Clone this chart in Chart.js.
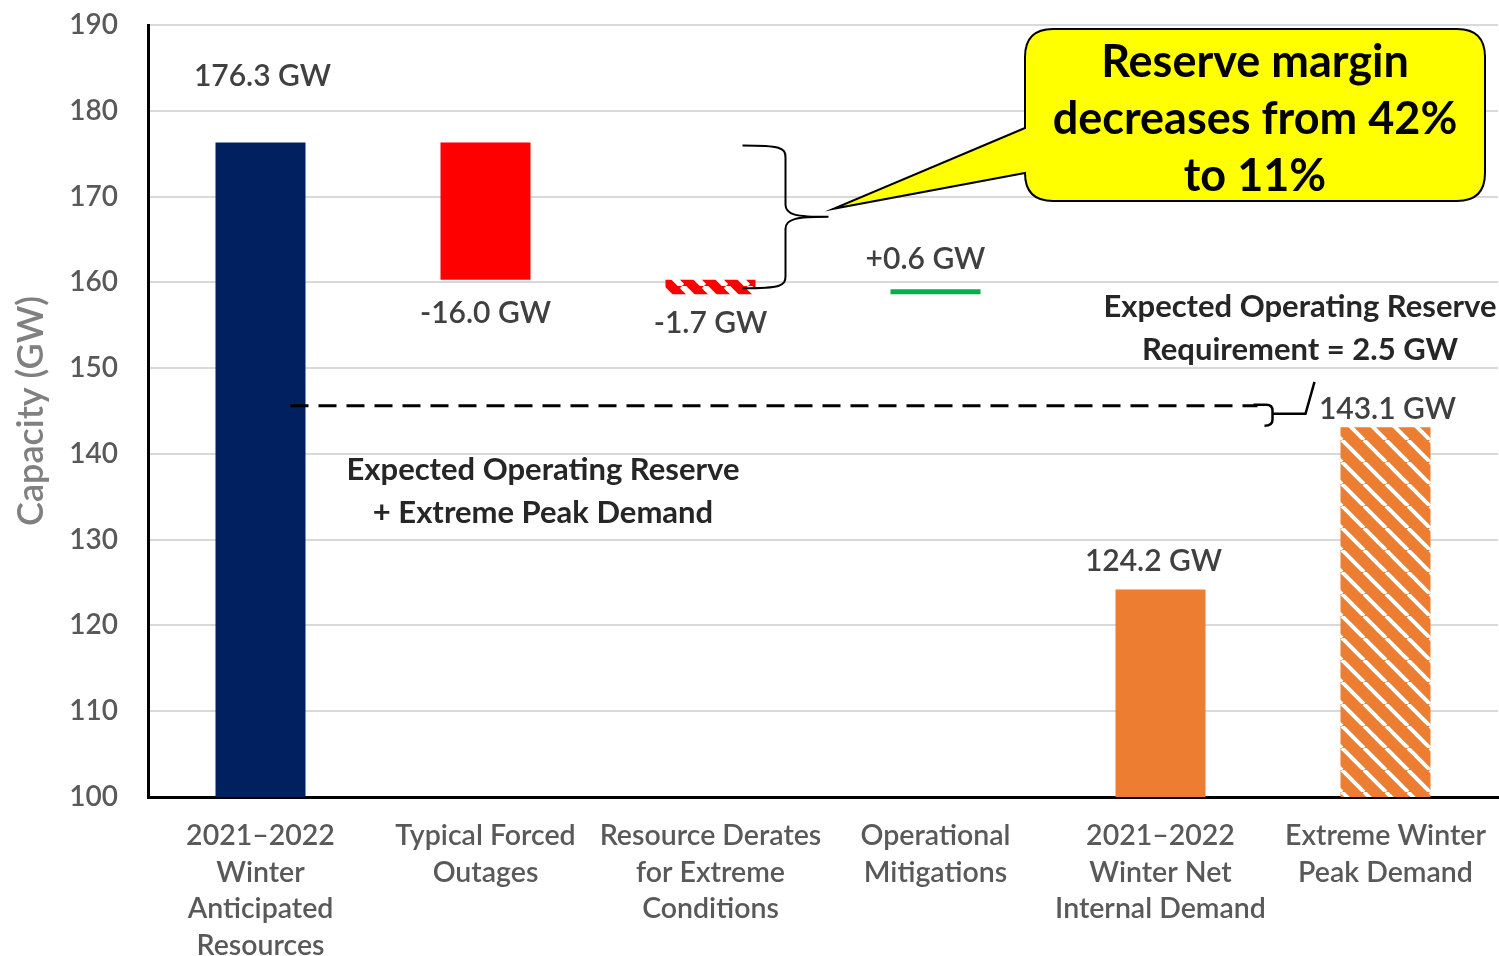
<!DOCTYPE html>
<html>
<head>
    <meta charset="utf-8">
    <script src="https://cdn.jsdelivr.net/npm/chart.js@4.4.1/dist/chart.umd.min.js"></script>
</head>
<body>
    <div class="wrap">
        <canvas id="reserveChart" role="img" aria-label="Winter capacity waterfall: resources, outages, derates, mitigations and demand"></canvas>
    </div>
</body>
</html>

<script>
    // DATA
    const categories = [
        ['2021\u20132022', 'Winter', 'Anticipated', 'Resources'],
        ['Typical Forced', 'Outages'],
        ['Resource Derates', 'for Extreme', 'Conditions'],
        ['Operational', 'Mitigations'],
        ['2021\u20132022', 'Winter Net', 'Internal Demand'],
        ['Extreme Winter', 'Peak Demand']
    ];
    // first value is the starting resources, the rest are the steps applied to it
    const resourceSteps = [176.3, -16.0, -1.7, 0.6];
    const demandValues = [124.2, 143.1];
    const operatingReserve = 2.5;
    const axisMin = 100;
    const axisMax = 190;

    // GLOBALS
    const FONT = 'Lato, "Open Sans", sans-serif';
    const GREY_TEXT = '#595959';
    Chart.defaults.font.family = FONT;
    Chart.defaults.plugins.legend.display = false;
    Chart.defaults.plugins.tooltip.enabled = false;

    // build the floating bars: running total for the steps, then demand bars from the floor
    const barRanges = [];
    let running = 0;
    resourceSteps.forEach((step, i) => {
        if (i === 0) {
            barRanges.push([axisMin, step]);
            running = step;
        } else {
            barRanges.push([running, running + step].sort((a, b) => a - b));
            running += step;
        }
    });
    const afterMitigations = running;
    demandValues.forEach(v => barRanges.push([axisMin, v]));

    const valueLabels = resourceSteps.map((v, i) => {
        if (i === 0) return v.toFixed(1) + ' GW';
        return (v > 0 ? '+' : '') + v.toFixed(1) + ' GW';
    }).concat(demandValues.map(v => v.toFixed(1) + ' GW'));

    // diagonal stripe fills
    const makeStripes = (color, stripe, period, stripeWidth) => {
        const tile = document.createElement('canvas');
        tile.width = period;
        tile.height = period;
        const tctx = tile.getContext('2d');
        tctx.fillStyle = color;
        tctx.fillRect(0, 0, period, period);
        tctx.strokeStyle = stripe;
        tctx.lineWidth = stripeWidth;
        for (let o = -period; o <= period; o += period) {
            tctx.beginPath();
            tctx.moveTo(o, 0);
            tctx.lineTo(o + period, period);
            tctx.stroke();
        }
        return tctx.createPattern(tile, 'repeat');
    };
    const redStripes = makeStripes('#FF0000', '#FFFFFF', 22, 6);
    const orangeStripes = makeStripes('#ED7D31', '#FFFFFF', 22, 4);

    const barColors = ['#002060', '#FF0000', redStripes, '#00B050', '#ED7D31', orangeStripes];

    const centeredLines = (ctx, lines, x, y, gap) => {
        lines.forEach((line, i) => ctx.fillText(line, x, y + i * gap));
    };

    // value labels, reserve line, braces and the callout
    const overlay = {
        id: 'overlay',
        afterDatasetsDraw(chart) {
            const { ctx, scales: { x, y } } = chart;
            const bars = chart.getDatasetMeta(0).data;
            const top = b => Math.min(b.y, b.base);
            const bottom = b => Math.max(b.y, b.base);

            ctx.save();
            ctx.textAlign = 'center';
            ctx.textBaseline = 'middle';
            ctx.fillStyle = '#404040';
            ctx.font = `600 30px ${FONT}`;
            const labelPos = [
                b => [b.x + 2, top(b) - 66],
                b => [b.x, bottom(b) + 34],
                b => [b.x, bottom(b) + 29],
                b => [b.x - 10, top(b) - 30],
                b => [b.x - 7, top(b) - 28],
                b => [b.x + 2, top(b) - 18]
            ];
            bars.forEach((b, i) => {
                const [lx, ly] = labelPos[i](b);
                ctx.fillText(valueLabels[i], lx, ly);
            });

            // expected operating reserve + extreme peak demand line
            const reserveY = y.getPixelForValue(demandValues[1] + operatingReserve);
            ctx.strokeStyle = '#000';
            ctx.lineWidth = 3;
            ctx.setLineDash([18, 10]);
            ctx.beginPath();
            ctx.moveTo(bars[0].x + 30, reserveY);
            ctx.lineTo(x.getPixelForValue(5) - 128, reserveY);
            ctx.stroke();
            ctx.setLineDash([]);

            // small brace bridging the reserve requirement
            const bx = x.getPixelForValue(5) - 113;
            ctx.lineWidth = 2.5;
            ctx.beginPath();
            ctx.moveTo(bx - 19, reserveY - 1);
            ctx.lineTo(bx - 6, reserveY - 1);
            ctx.quadraticCurveTo(bx, reserveY - 1, bx, reserveY + 5);
            ctx.lineTo(bx, reserveY + 14);
            ctx.quadraticCurveTo(bx, reserveY + 20, bx - 8, reserveY + 20);
            ctx.moveTo(bx, reserveY + 8);
            ctx.lineTo(bx + 33, reserveY + 8);
            ctx.lineTo(bx + 42, reserveY - 24);
            ctx.stroke();

            ctx.fillStyle = '#262626';
            ctx.font = `bold 31px ${FONT}`;
            centeredLines(ctx, ['Expected Operating Reserve', '+ Extreme Peak Demand'], 543, reserveY + 64, 43);
            centeredLines(ctx, ['Expected Operating Reserve', 'Requirement = 2.5 GW'], 1300, reserveY - 99, 43);

            // curly brace spanning the loss of resources
            const braceTop = y.getPixelForValue(resourceSteps[0]) + 3;
            const braceBot = y.getPixelForValue(afterMitigations) - 1;
            const braceMid = (braceTop + braceBot) / 2;
            const cx = bars[2].x;
            const left = cx + 32, spine = cx + 75, tip = cx + 118;
            ctx.lineWidth = 2;
            ctx.beginPath();
            ctx.moveTo(left, braceTop);
            ctx.bezierCurveTo(spine - 5, braceTop, spine, braceTop + 2, spine, braceTop + 12);
            ctx.lineTo(spine, braceMid - 12);
            ctx.bezierCurveTo(spine, braceMid - 2, spine + 10, braceMid, tip, braceMid);
            ctx.bezierCurveTo(spine + 10, braceMid, spine, braceMid + 2, spine, braceMid + 12);
            ctx.lineTo(spine, braceBot - 12);
            ctx.bezierCurveTo(spine, braceBot - 2, spine - 5, braceBot, left, braceBot);
            ctx.stroke();

            // callout bubble
            const bL = 1025, bT = 29, bR = 1485, bB = 201, r = 28;
            ctx.beginPath();
            ctx.moveTo(bL + r, bT);
            ctx.lineTo(bR - r, bT);
            ctx.quadraticCurveTo(bR, bT, bR, bT + r);
            ctx.lineTo(bR, bB - r);
            ctx.quadraticCurveTo(bR, bB, bR - r, bB);
            ctx.lineTo(bL + r, bB);
            ctx.quadraticCurveTo(bL, bB, bL, bB - r);
            ctx.lineTo(bL, 173);
            ctx.lineTo(tip + 5, braceMid - 8);
            ctx.lineTo(bL, 128);
            ctx.lineTo(bL, bT + r);
            ctx.quadraticCurveTo(bL, bT, bL + r, bT);
            ctx.closePath();
            ctx.fillStyle = '#FFFF00';
            ctx.fill();
            ctx.strokeStyle = '#000';
            ctx.lineWidth = 2;
            ctx.stroke();

            ctx.fillStyle = '#000';
            ctx.font = `bold 45px ${FONT}`;
            centeredLines(ctx, ['Reserve margin', 'decreases from 42%', 'to 11%'], 1255, 62, 57);
            ctx.restore();
        }
    };

    const ctx = document.getElementById('reserveChart');
    new Chart(ctx, {
        type: 'bar',
        data: {
            labels: categories,
            datasets: [{
                data: barRanges,
                backgroundColor: barColors,
                borderWidth: 0,
                barPercentage: 0.4,
                categoryPercentage: 1.0
            }]
        },
        options: {
            responsive: true,
            maintainAspectRatio: false,
            animation: false,
            devicePixelRatio: 1,
            layout: { padding: { top: 25, right: 1, left: 0, bottom: 0 } },
            scales: {
                x: {
                    grid: { display: false, drawTicks: false },
                    border: { display: true, color: '#000', width: 3 },
                    ticks: {
                        color: GREY_TEXT,
                        font: { size: 28.5, weight: '600', lineHeight: 1.28 },
                        padding: 21,
                        maxRotation: 0,
                        autoSkip: false
                    },
                    afterFit: scale => {
                        scale.height = 159;
                        scale.paddingLeft = 0;
                        scale.paddingRight = 0;
                    }
                },
                y: {
                    min: axisMin,
                    max: axisMax,
                    grid: { color: '#D9D9D9', lineWidth: 2, drawTicks: false },
                    border: { display: true, color: '#000', width: 3 },
                    ticks: {
                        stepSize: 10,
                        color: GREY_TEXT,
                        font: { size: 28, weight: '600' },
                        padding: 30
                    },
                    title: {
                        display: true,
                        text: 'Capacity (GW)',
                        color: '#808080',
                        font: { size: 36, weight: '600' },
                        padding: { top: 10, bottom: 0 }
                    },
                    afterFit: scale => {
                        scale.width = 148;
                        scale.paddingTop = 0;
                        scale.paddingBottom = 0;
                    }
                }
            }
        },
        plugins: [overlay]
    });
</script>

<style>
body {
    margin: 0;
    background: #fff;
}
.wrap {
    width: 1499px;
    height: 956px;
    position: relative;
}
</style>
